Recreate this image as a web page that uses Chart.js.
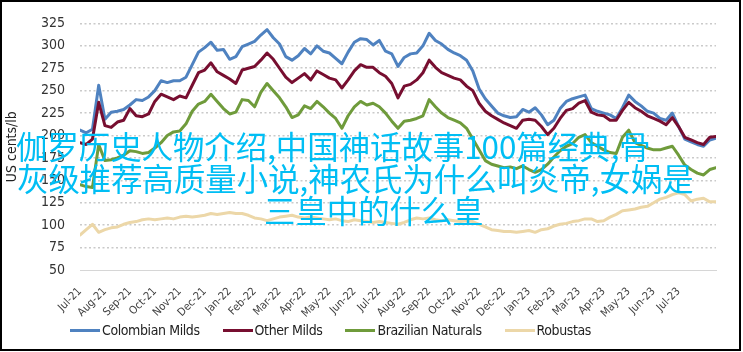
<!DOCTYPE html>
<html>
<head>
<meta charset="utf-8">
<script src="https://cdn.jsdelivr.net/npm/chart.js@4.4.0/dist/chart.umd.min.js"></script>
<style>
  body { margin: 0; background: #fff; }
  #wrap { position: relative; width: 743px; height: 352px; overflow: hidden; }
  #chart { position: absolute; left: 0; top: 0; }
  #frame { position: absolute; left: 0; top: 0; width: 737px; height: 347px; border: 2px solid #000; pointer-events: none; }
  #legend { position: absolute; left: 70px; top: 322px; display: flex; align-items: center;
            font: 14px "Liberation Sans Narrow", "DejaVu Sans Condensed", sans-serif; letter-spacing: -0.4px; color: #222; }
  #legend .item { display: flex; align-items: center; margin-right: 23px; }
  #legend .swatch { width: 30px; height: 3px; margin-right: 2px; }
  #overlay { position: absolute; left: 0; top: 130px; font: 31.4px/32px "Noto Sans CJK SC", sans-serif; color: #00BEF4; white-space: nowrap; pointer-events: none; }
  #overlay div { position: relative; }
</style>
</head>
<body>
<div id="wrap">
  <canvas id="chart" width="743" height="352"></canvas>
  <div id="legend"></div>
  <div id="overlay">
    <div style="left:16px">伽罗历史人物介绍,中国神话故事100篇经典,骨</div>
    <div style="left:17px">灰级推荐高质量小说,神农氏为什么叫炎帝,女娲是</div>
    <div style="left:264px">三皇中的什么皇</div>
  </div>
  <div id="frame"></div>
</div>
<script>
// month tick labels, Jul-21 .. Jul-23
var months = ['Jul-21','Aug-21','Sep-21','Oct-21','Nov-21','Dec-21','Jan-22','Feb-22','Mar-22','Apr-22','May-22','Jun-22',
              'Jul-22','Aug-22','Sep-22','Oct-22','Nov-22','Dec-22','Jan-23','Feb-23','Mar-23','Apr-23','May-23','Jun-23','Jul-23'];

// series, one value per quarter month starting Jul-21 (US cents/lb)
var colombianMilds = [
  206,203,207,256,218,226,227,229,234,240,
  239,243,250,261,259,261,261,265,279,293,
  298,304,295,296,285,288,299,302,305,312,
  318,309,302,288,284,289,297,291,300,294,
  292,286,280,293,304,308,307,301,306,294,
  291,277,287,291,292,300,314,306,302,296,
  292,289,284,272,252,241,233,225,222,220,
  221,229,226,231,223,212,217,230,238,241,
  243,245,230,227,225,223,219,231,245,238,
  233,227,225,219,217,225,210,196,193,190,
  188,195,197];
var otherMilds = [
  192,190,196,237,211,209,215,217,230,222,
  221,224,238,246,243,240,244,242,256,270,
  273,281,271,267,263,258,273,275,277,284,
  292,285,275,265,259,264,269,262,272,268,
  264,262,253,262,272,279,276,276,270,266,
  258,242,255,257,262,270,284,276,270,267,
  264,262,255,250,236,227,222,218,214,211,
  208,217,218,217,210,201,208,219,228,230,
  236,239,226,223,222,217,217,228,237,231,
  227,222,219,216,212,220,210,198,195,192,
  190,198,199];
var brazilianNaturals = [
  145,143,142,190,172,173,175,178,183,182,
  180,181,186,192,200,204,205,213,227,235,
  238,246,238,230,224,226,240,239,232,248,
  258,250,242,232,220,223,233,230,238,232,
  225,219,208,222,232,238,234,236,232,225,
  216,208,216,217,219,222,240,232,225,220,
  217,214,208,196,184,172,168,166,164,165,
  163,166,162,159,162,168,176,183,188,191,
  198,201,192,188,184,181,180,198,206,192,
  189,186,184,184,186,188,178,167,162,158,
  156,162,164];
var robustas = [
  89,95,101,92,95,97,98,101,103,104,
  106,107,106,107,108,107,109,110,109,110,
  111,113,112,113,114,113,113,111,108,107,
  105,107,109,110,111,109,108,109,108,107,
  106,107,105,104,106,105,104,103,104,103,
  102,101,103,106,108,107,108,106,105,106,
  105,104,105,104,101,98,95,94,93,93,
  92,93,94,92,95,96,99,101,102,104,
  105,107,107,104,105,109,112,116,117,118,
  120,121,125,129,131,134,136,134,127,129,
  130,126,126];

var seriesNames = ['Colombian Milds', 'Other Milds', 'Brazilian Naturals', 'Robustas'];
var seriesColors = ['#4F82C0', '#770E30', '#6F9B3B', '#ECD7A8'];
var seriesData = [colombianMilds, otherMilds, brazilianNaturals, robustas];
var drawOrder = [2, 1, 3, 4];

function toPoints(values) {
    return values.map(function(v, i) { return { x: i / 4, y: v }; });
}

var datasets = [];
for (var i = 0; i < seriesNames.length; i++) {
    datasets.push({
        label: seriesNames[i],
        data: toPoints(seriesData[i]),
        borderColor: seriesColors[i],
        backgroundColor: seriesColors[i],
        order: drawOrder[i]
    });
}

var narrow = '"Liberation Sans Narrow", "DejaVu Sans Condensed", sans-serif';

var ctx = document.getElementById('chart').getContext('2d');
var chart = new Chart(ctx, {
    type: 'line',
    data: { datasets: datasets },
    options: {
        responsive: false,
        animation: false,
        layout: { padding: { top: 21, right: 27, left: 0, bottom: 0 } },
        plugins: { legend: { display: false }, tooltip: { enabled: false } },
        elements: {
            point: { radius: 0 },
            line: { borderWidth: 3, tension: 0, borderJoinStyle: 'round', borderCapStyle: 'round' }
        },
        scales: {
            x: {
                type: 'linear',
                min: 0,
                max: 25.5,
                afterFit: function(s) { s.height = 82; },
                afterBuildTicks: function(s) {
                    s.ticks = months.map(function(m, i) { return { value: i }; });
                },
                grid: { display: false },
                border: { display: true, color: '#d6d6d6', width: 1 },
                ticks: {
                    autoSkip: false, maxRotation: 45, minRotation: 45, padding: 7,
                    color: '#404040', font: { family: narrow, size: 11 },
                    callback: function(v) { return months[v]; }
                }
            },
            y: {
                min: 50,
                max: 325,
                afterFit: function(s) { s.width = 80; },
                ticks: { stepSize: 25, padding: 15, color: '#333', font: { family: narrow, size: 14 } },
                grid: {
                    drawTicks: false,
                    lineWidth: 1.5,
                    color: function(c) { return c.tick && c.tick.value === 50 ? 'rgba(0,0,0,0)' : '#cacaca'; }
                },
                border: { display: false, dash: [2, 2.5] },
                title: { display: true, text: 'US cents/lb', padding: { top: 4, bottom: 0 }, color: '#222', font: { family: narrow, size: 14 } }
            }
        }
    }
});

// legend below the plot
var legend = document.getElementById('legend');
for (var i = 0; i < seriesNames.length; i++) {
    var item = document.createElement('div');
    item.className = 'item';
    item.innerHTML = '<span class="swatch" style="background:' + seriesColors[i] + '"></span><span>' + seriesNames[i] + '</span>';
    legend.appendChild(item);
}
</script>
</body>
</html>
